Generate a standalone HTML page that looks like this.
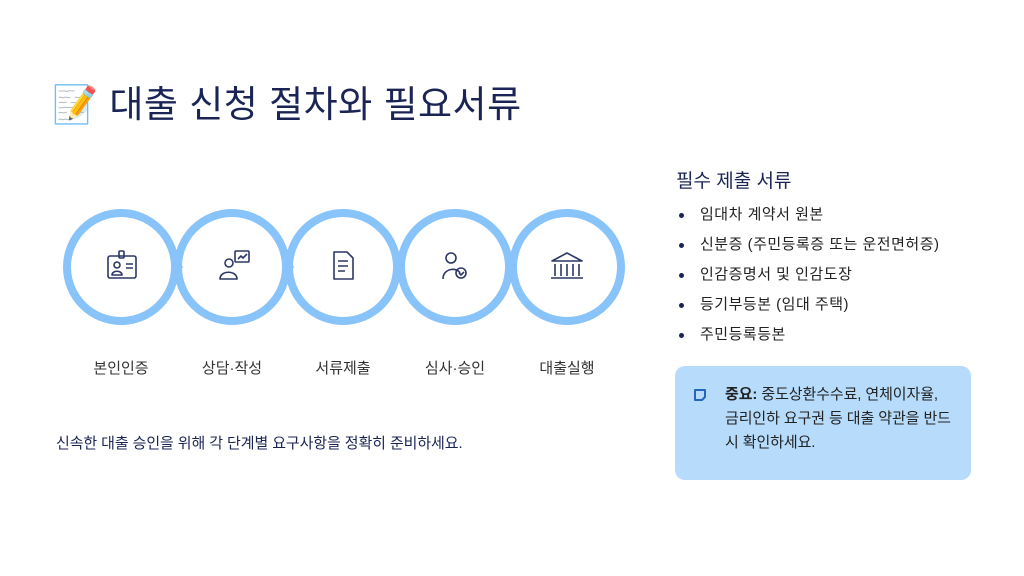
<!DOCTYPE html>
<html><head><meta charset="utf-8"><style>
body{margin:0;width:1024px;height:576px;background:#fff;font-family:"Liberation Sans","Noto Sans CJK KR",sans-serif;position:relative;overflow:hidden;color:#1f2a4a}
.t{position:absolute}
h1{position:absolute;left:52px;top:74px;margin:0;font-size:37px;font-weight:400;color:#1b2555;letter-spacing:0.5px}
.lbl{position:absolute;top:357px;width:100px;text-align:center;font-size:15px;color:#333}
ul{position:absolute;left:676px;top:200px;margin:0;padding:0;list-style:none;font-size:15px;color:#222}
li{height:30px;line-height:30px;position:relative;padding-left:24px;letter-spacing:0.5px}
li:before{content:"";position:absolute;left:3px;top:13px;width:5px;height:5px;border-radius:50%;background:#1b2555}
.box{position:absolute;left:675px;top:366px;width:296px;height:114px;background:#b6dbfb;border-radius:10px}
</style></head><body>
<h1>📝 대출 신청 절차와 필요서류</h1>
<svg class="t" style="left:0;top:0" width="640" height="340">
<g fill="none" stroke="#88c3f9" stroke-width="8">
<circle cx="121" cy="267" r="54"/><circle cx="232" cy="267" r="54"/><circle cx="343" cy="267" r="54"/><circle cx="455" cy="267" r="54"/><circle cx="567" cy="267" r="54"/>
</g>
<g fill="#88c3f9">
<polygon points="172,250 183,267 172,284"/><polygon points="283,250 294,267 283,284"/><polygon points="394,250 405,267 394,284"/><polygon points="506,250 517,267 506,284"/>
</g>
<g fill="none" stroke="#2c3766" stroke-width="1.6" stroke-linejoin="round">
<rect x="108" y="256" width="28" height="22" rx="2"/><rect x="119" y="251" width="5" height="7" rx="1"/><circle cx="117" cy="265" r="3"/><path d="M112 275c0-5 10-5 10 0z"/><path d="M126 264h7M126 268h7"/>
<circle cx="229" cy="263" r="4"/><path d="M220 279c0-9 17-9 17 0z"/><rect x="235" y="251" width="14" height="11" rx="1"/><path d="M238 259l3-3 2 2 4-4"/>
<path d="M334 252h13l6 6v21h-19z"/><path d="M338 261h10M338 266h10M338 271h7"/>
<circle cx="451" cy="258" r="5"/><path d="M443 279c0-11 14-12 17-6"/><circle cx="461" cy="273" r="5"/><path d="M459 273l2 2 3-3"/>
<path d="M552 261l15-8 15 8z"/><path d="M555 264v12M561 264v12M567 264v12M573 264v12M579 264v12M551 278h32"/>
</g></svg>
<div class="lbl" style="left:71px">본인인증</div><div class="lbl" style="left:182px">상담·작성</div><div class="lbl" style="left:293px">서류제출</div><div class="lbl" style="left:405px">심사·승인</div><div class="lbl" style="left:517px">대출실행</div>
<div class="t" style="left:56px;top:432px;font-size:15px;color:#1b2555;letter-spacing:-0.1px">신속한 대출 승인을 위해 각 단계별 요구사항을 정확히 준비하세요.</div>
<div class="t" style="left:676px;top:166px;font-size:19px;color:#1b2555">필수 제출 서류</div>
<ul><li>임대차 계약서 원본</li><li>신분증 (주민등록증 또는 운전면허증)</li><li>인감증명서 및 인감도장</li><li>등기부등본 (임대 주택)</li><li>주민등록등본</li></ul>
<div class="box">
<svg class="t" style="left:18px;top:22px" width="14" height="14"><path d="M2 2h10v7l-3 3H2z" fill="none" stroke="#2466b8" stroke-width="2" stroke-linejoin="round"/></svg>
<div class="t" style="left:50px;top:17px;width:240px;font-size:15px;line-height:24px;color:#222;letter-spacing:-0.1px"><b>중요:</b> 중도상환수수료, 연체이자율,<br>금리인하 요구권 등 대출 약관을 반드<br>시 확인하세요.</div>
</div>
</body></html>
